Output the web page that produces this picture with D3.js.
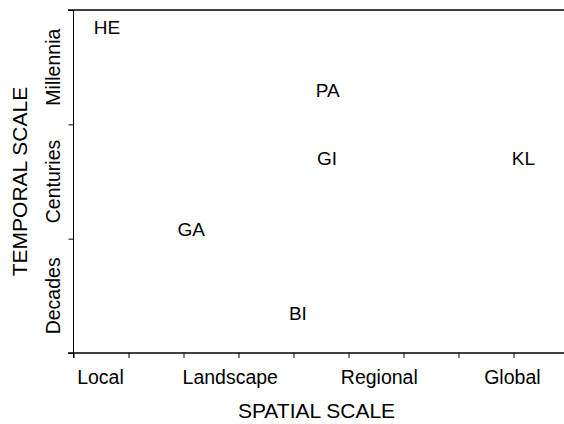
<!DOCTYPE html>
<html>
<head>
    <meta charset="utf-8">
    <title>Spatial vs temporal scale</title>
    <script src="https://cdnjs.cloudflare.com/ajax/libs/d3/7.8.5/d3.min.js"></script>
    <style>
        body { margin: 0; background: #fff; }
        svg { display: block; font-family: "Liberation Sans", Arial, sans-serif; }
        .tick line, .domain { stroke: #000; }
    </style>
</head>
<body>
    <svg id="chart" width="564" height="424"></svg>
    <script>
        // studies placed by spatial (x) and temporal (y) scale units
        var codes = ["HE", "PA", "GI", "KL", "GA", "BI"];
        var spatial = [0.61, 4.62, 4.61, 8.18, 2.14, 4.08];
        var temporal = [2.85, 2.30, 1.70, 1.70, 1.08, 0.35];

        var xCats = ["Local", "Landscape", "Regional", "Global"];
        var xCatPos = [0.49, 2.85, 5.56, 7.98];
        var yCats = ["Decades", "Centuries", "Millennia"];
        var yCatPos = [0.5, 1.5, 2.5];

        var svg = d3.select("#chart");

        var x = d3.scaleLinear().domain([0, 9]).range([73.5, 568.5]);
        var y = d3.scaleLinear().domain([0, 3]).range([353, 10]);

        // top frame line
        svg.append("line")
            .attr("x1", 68).attr("x2", 564)
            .attr("y1", y(3)).attr("y2", y(3))
            .attr("stroke", "#000").attr("stroke-width", 1.5);

        var xAxis = svg.append("g")
            .attr("transform", "translate(0," + y(0) + ")")
            .call(d3.axisBottom(x).tickValues(d3.range(0, 10)).tickFormat("").tickSize(5).tickSizeOuter(0));
        xAxis.select(".domain").remove();
        xAxis.append("line")
            .attr("x1", 68).attr("x2", 564)
            .attr("stroke", "#000").attr("stroke-width", 1.5);

        var yAxis = svg.append("g")
            .attr("transform", "translate(" + x(0) + ",0)")
            .call(d3.axisLeft(y).tickValues([0, 1, 2, 3]).tickFormat("").tickSize(5).tickSizeOuter(0));
        yAxis.select(".domain").remove();
        yAxis.append("line")
            .attr("y1", y(3)).attr("y2", y(0) + 5)
            .attr("stroke", "#000").attr("stroke-width", 1);

        svg.selectAll("text.xcat").data(xCats).enter()
            .append("text")
            .attr("class", "xcat")
            .attr("x", function(d, i) { return x(xCatPos[i]); })
            .attr("y", 384)
            .attr("text-anchor", "middle")
            .attr("font-size", 19.5)
            .text(function(d) { return d; });

        svg.selectAll("text.ycat").data(yCats).enter()
            .append("text")
            .attr("class", "ycat")
            .attr("transform", function(d, i) { return "translate(60," + y(yCatPos[i]) + ") rotate(-90)"; })
            .attr("text-anchor", "middle")
            .attr("font-size", 19.5)
            .text(function(d) { return d; });

        svg.append("text")
            .attr("x", 316.5).attr("y", 418)
            .attr("text-anchor", "middle")
            .attr("font-size", 21)
            .text("SPATIAL SCALE");

        svg.append("text")
            .attr("transform", "translate(27," + y(1.5) + ") rotate(-90)")
            .attr("text-anchor", "middle")
            .attr("font-size", 21)
            .text("TEMPORAL SCALE");

        svg.selectAll("text.code").data(codes).enter()
            .append("text")
            .attr("class", "code")
            .attr("x", function(d, i) { return x(spatial[i]); })
            .attr("y", function(d, i) { return y(temporal[i]); })
            .attr("dy", "0.35em")
            .attr("text-anchor", "middle")
            .attr("font-size", 19)
            .text(function(d) { return d; });
    </script>
</body>
</html>
